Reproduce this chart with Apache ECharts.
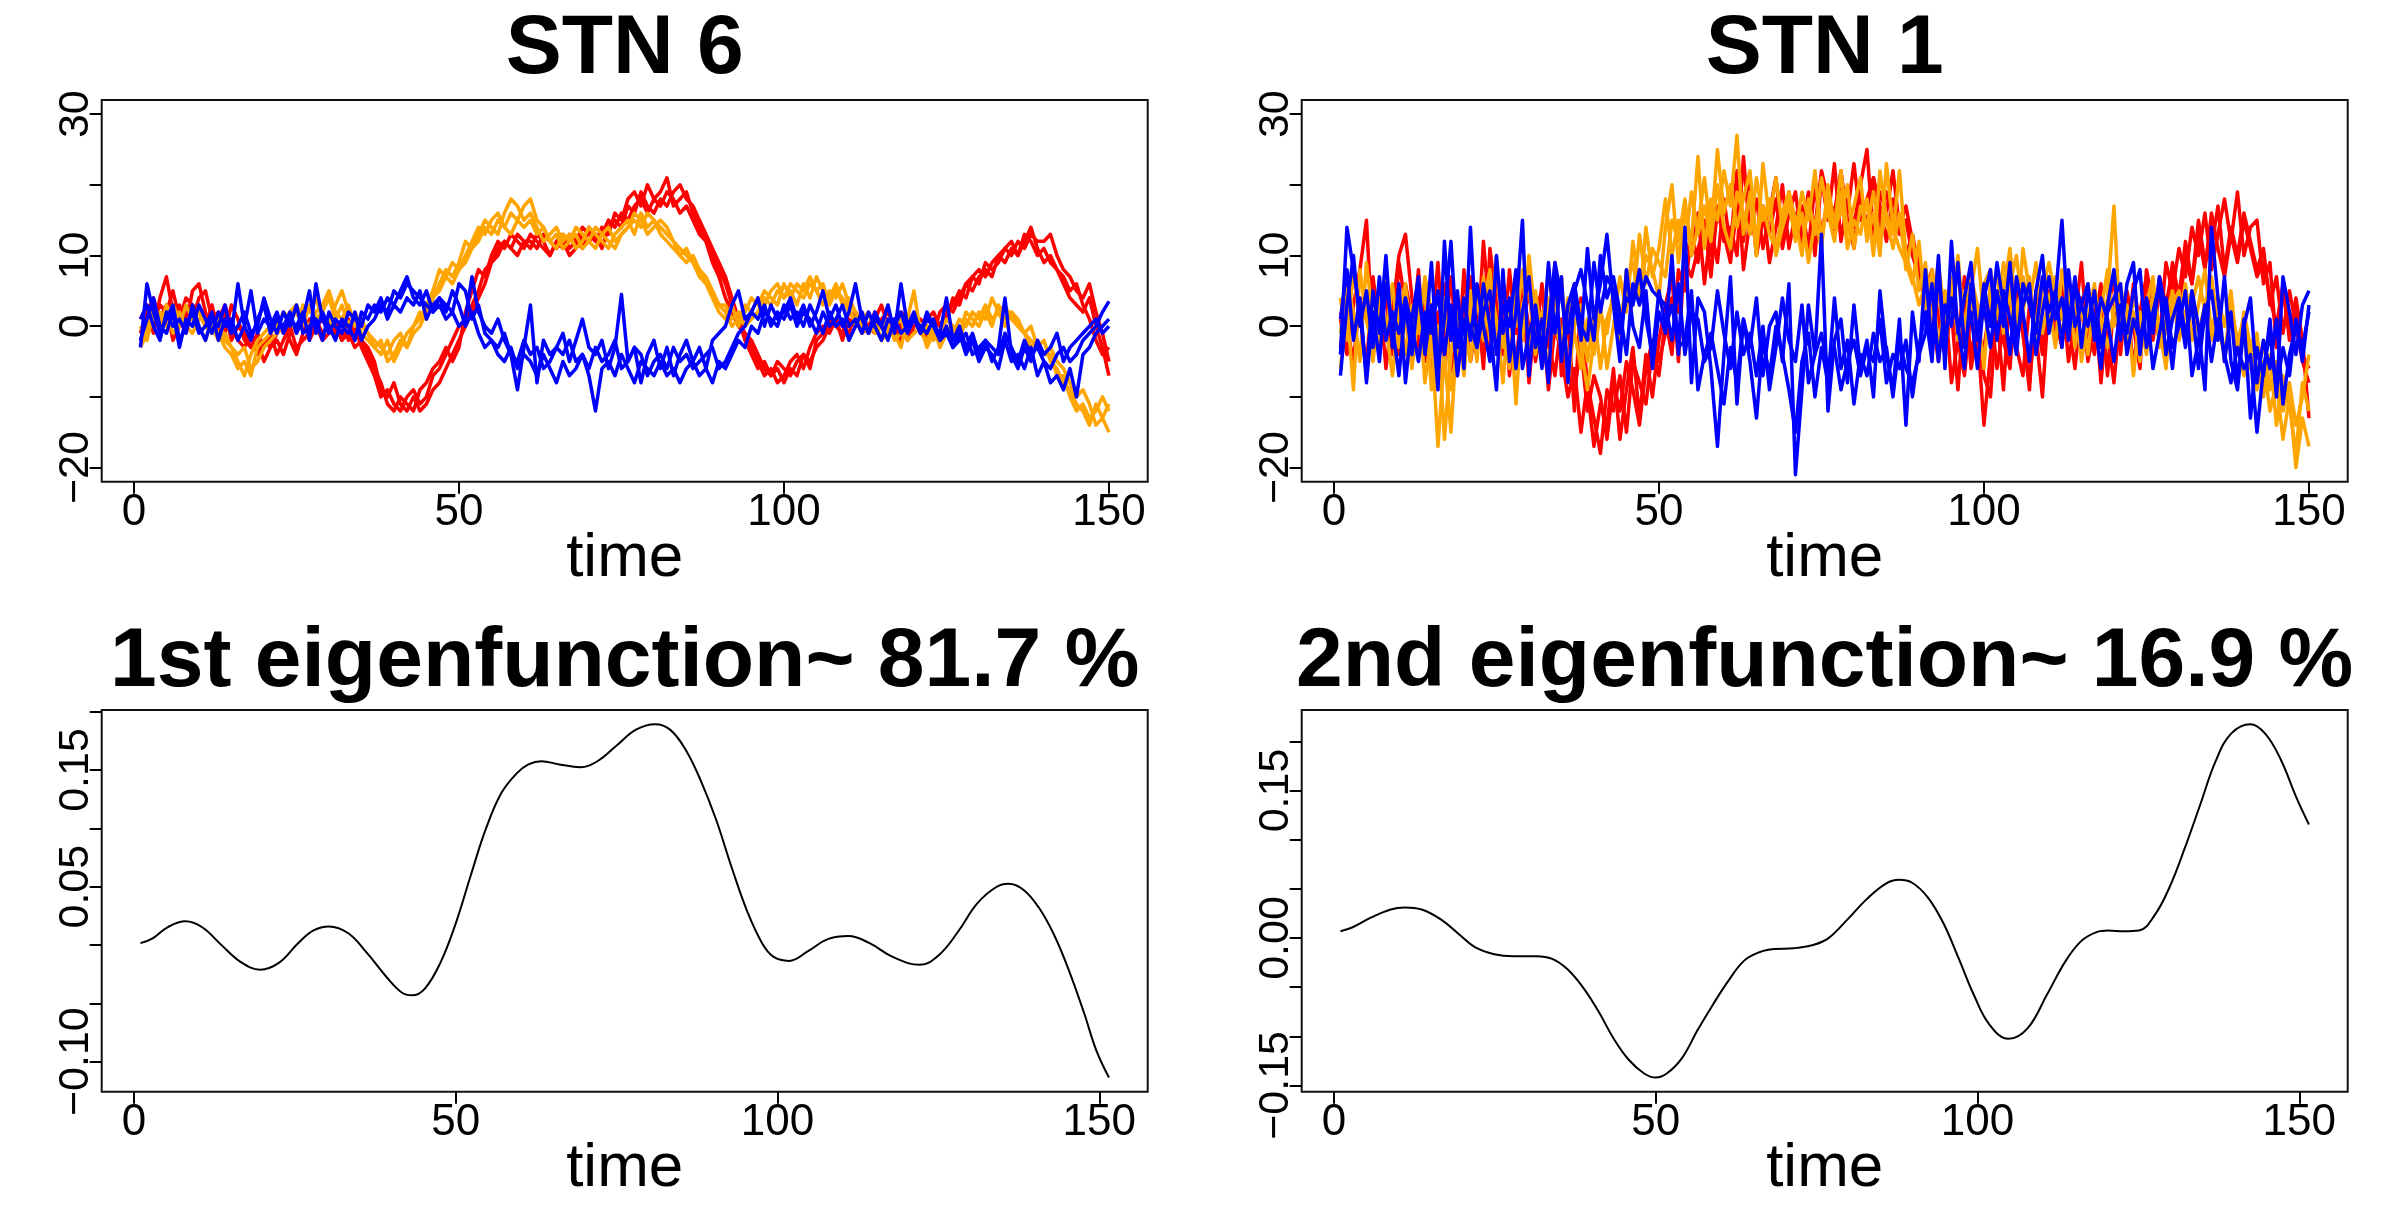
<!DOCTYPE html>
<html><head><meta charset="utf-8">
<script src="https://cdn.jsdelivr.net/npm/echarts@6/dist/echarts.min.js"></script>
<style>html,body{margin:0;padding:0;background:#fff}#c{width:2400px;height:1219px}</style>
</head><body><div id="c"></div><script>
// ---------- data ----------
const time = Array.from({length: 150}, (_, i) => i + 1);
const xTicks = [0, 50, 100, 150];
const topYTicks = [-20, -10, 0, 10, 20, 30];
const topYLabels = [-20, 0, 10, 30];
const ef1YTicks = [-0.10, -0.05, 0, 0.05, 0.10, 0.15, 0.20];
const ef1YLabels = [-0.10, 0.05, 0.15];
const ef2YTicks = [-0.15, -0.10, -0.05, 0, 0.05, 0.10, 0.15, 0.20];
const ef2YLabels = [-0.15, 0, 0.15];
const titles = ['STN 6', 'STN 1', '1st eigenfunction~ 81.7 %', '2nd eigenfunction~ 16.9 %'];
const xName = 'time';
const topYLim = [-20, 30];

// STN 6
const stn6Red1 = [1,3,-1,4,7,2,3,0,5,6, 2,-1,1,3,0,-2,-3,-1,-4,-2, -3,-1,0,-2,-4,-1,1,0,-2,-1, 1,-2,-1,-3,-2,-4,-6,-8,-11,-12, -10,-11,-12,-9,-8,-6,-5,-3,-5,-3, 2,5,8,7,10,12,11,13,12,11, 13,12,11,10,12,13,11,12,14,13, 12,14,13,16,15,18,19,17,20,18, 19,21,17,18,19,16,14,12,10,8, 6,3,1,-2,-4,-6,-5,-7,-6,-8, -6,-7,-4,-5,-3,-2,0,1,-2,1, 0,2,-1,1,3,0,-1,2,1,-1, 0,-2,1,0,2,3,5,4,7,8, 7,9,10,11,10,12,11,13,12,12, 13,10,8,7,5,4,6,2,-1,-5];
const stn6Red2 = [-1,2,4,1,3,-2,0,2,1,4, 5,1,2,-1,3,1,-2,-3,-1,-3, -1,-4,-2,0,-3,-2,-1,1,-1,0, -1,1,-2,0,-3,-5,-7,-10,-9,-11, -12,-10,-9,-11,-10,-7,-6,-4,-2,0, 1,3,5,8,9,11,12,11,13,12, 11,13,12,10,12,11,13,12,11,14, 12,13,15,14,16,15,17,18,16,18, 17,19,18,16,17,15,13,12,9,7, 4,2,0,-1,-3,-5,-7,-6,-8,-7, -5,-4,-6,-3,-1,0,-1,1,0,-1, 2,1,0,-1,1,2,0,-2,0,1, -1,1,2,0,1,4,3,6,5,7, 8,7,10,9,11,10,12,14,11,9, 10,8,6,4,3,2,4,0,-3,-7];
const stn6Red3 = [0,-1,1,3,2,5,1,4,3,2, 0,3,-1,2,-2,0,-1,-3,-2,-5, -3,-2,-4,-1,0,1,-2,0,1,-1, 0,-2,1,-1,-2,-3,-5,-9,-10,-8, -11,-12,-10,-12,-11,-9,-8,-6,-4,-2, 0,2,4,6,9,10,12,11,10,12, 12,11,13,12,11,12,10,11,13,12, 13,11,14,15,14,17,16,19,17,16, 18,17,19,20,18,17,15,13,11,9, 7,4,1,-1,-2,-4,-6,-7,-5,-6, -7,-5,-4,-6,-2,-1,1,0,-1,2, 1,-1,0,2,0,-1,1,0,-2,0, 1,0,-1,2,3,2,4,6,7,6, 9,8,9,11,12,10,13,12,10,11, 9,8,7,5,6,3,1,-2,-4,-3];
const stn6Orange1 = [-3,-1,1,2,0,3,1,-1,2,0, -2,1,-1,-3,-4,-6,-5,-7,-3,-2, -1,0,2,1,-1,3,2,4,1,0, 3,5,2,1,-1,-2,-3,-4,-2,-5, -3,-1,0,2,1,4,6,8,7,9, 12,11,13,15,14,13,16,18,17,15, 16,14,12,13,14,12,13,11,12,14, 13,12,11,13,14,15,13,16,14,15, 13,12,11,10,9,10,8,7,5,3, 2,0,1,3,2,4,3,5,6,4, 5,3,6,4,7,5,4,6,3,4, 2,0,-1,1,-2,0,-1,-3,1,5, -1,-2,0,-3,-1,0,-2,1,0,2, 1,4,2,3,1,0,-1,-2,-3,-2, -5,-6,-8,-9,-11,-12,-14,-11,-13,-15];
const stn6Orange2 = [-2,0,3,1,2,-1,0,3,1,2, 0,-1,1,-2,-3,-5,-7,-4,-2,-1, 0,1,-1,2,3,1,0,2,3,5, 2,1,3,0,1,-1,-2,-3,-4,-2, -1,-3,0,1,3,5,8,7,9,8, 10,12,14,13,15,16,14,13,15,17, 18,15,14,12,13,11,12,14,13,12, 11,13,14,12,13,14,16,15,13,14, 15,14,12,10,11,9,7,6,4,2, 1,3,0,2,4,3,5,4,3,6, 4,6,5,7,5,6,3,5,4,2, 1,2,-1,0,-2,-1,0,1,-2,-1, 0,-3,-1,-2,0,-1,1,0,2,1, 3,1,2,0,2,1,-1,-3,-2,-4, -4,-7,-7,-10,-12,-11,-13,-12,-10,-12];
const stn6Orange3 = [0,-2,2,0,3,1,2,0,-1,1, 1,0,-2,-1,-3,-4,-3,-6,-5,-3, -2,-1,0,1,2,0,3,1,2,4, 1,3,0,2,0,-1,-3,-2,-5,-4, -2,-3,-1,0,2,4,5,7,6,8, 9,11,12,14,13,15,14,16,15,14, 15,13,14,12,11,13,12,13,11,12, 14,13,12,11,13,14,15,14,16,15, 14,13,12,11,10,9,8,6,5,3, 3,1,2,0,1,2,4,3,5,4, 6,5,4,6,5,3,5,4,6,3, 0,1,2,-1,0,1,-2,-1,0,2, -1,0,-2,-1,1,0,-1,2,1,0, 2,0,3,1,2,0,-1,0,-3,-4, -3,-5,-6,-8,-10,-9,-11,-14,-13,-11];
const stn6Blue1 = [-3,6,2,-1,1,3,-2,0,2,-1, 0,2,-2,1,-1,6,0,-2,1,3, -1,1,0,2,-1,1,5,-1,2,0, -2,1,0,-2,2,1,3,2,4,3, 5,7,4,3,5,2,4,3,2,6, 5,1,3,-1,-2,-3,-1,-4,-5,-2, -4,-3,-6,-5,-3,-4,-2,-5,-4,-6, -3,-5,-4,-2,-6,-5,-3,-4,-7,-5, -4,-6,-3,-5,-4,-6,-5,-4,-3,-6, -5,-3,-1,0,2,1,3,0,2,1, 3,0,2,1,-1,2,0,1,3,0, 1,-1,2,0,-2,1,0,2,-1,1, 0,-1,1,-2,0,-3,-2,-1,-4,-3, -2,-3,-4,-1,-3,-5,-2,-4,-3,-5, -6,-4,-3,-5,-4,-2,-1,0,2,3.5];
const stn6Blue2 = [1,3,0,-2,2,0,1,-1,3,0, -2,1,0,3,-1,0,2,-1,0,4, 1,-1,2,0,3,-1,0,1,-2,2, 0,-1,2,1,0,3,2,4,1,3, 2,4,3,5,1,3,4,2,5,3, 0,2,-1,-3,-2,-4,-5,-3,-6,-4, -5,-7,-4,-6,-8,-5,-7,-6,-4,-7, -12,-6,-5,-7,-4,-6,-8,-5,-6,-7, -5,-7,-6,-8,-6,-5,-7,-6,-8,-5, -6,-4,-2,-3,0,-1,2,1,0,3, 1,2,0,3,1,-1,2,0,1,-2, 0,2,-1,1,0,-2,1,-1,0,2, -1,1,0,-2,-1,-3,-1,-4,-2,-5, -3,-4,-6,-2,-5,-4,-6,-3,-7,-5, -8,-7,-9,-6,-10,-4,-3,-1,0,1];
const stn6Blue3 = [-2,1,4,0,-1,2,-3,1,0,3, 1,-1,2,0,1,-2,0,5,-1,1, 0,2,-1,1,0,2,-2,6,1,-1, 1,0,-1,2,-2,0,1,3,2,5, 4,6,5,4,3,2,3,1,2,0, 1,7,2,0,-1,1,-2,-4,-9,-3, 3,-8,-2,-4,-3,-1,-5,-2,1,-3, -4,-2,-6,-3,4.5,-5,-3,-8,-4,-2, -6,-3,-7,-4,-2,-5,-3,-6,-2,-1, 0,3,5,1,2,4,0,3,1,2, 4,1,3,0,2,5,1,3,0,2, 6,1,-1,2,0,3,-1,6,0,1, -1,2,0,-1,4,-2,0,-3,-1,-4, -2,-5,-3,4,-4,-6,-3,-5,-2,-4, -3,-1,-5,-3,-2,-1,0,1,-1,0];

// STN 1
const stn1Red1 = [1,-4,3,8,15,-2,5,-6,2,10, 13,4,-3,6,-1,9,-5,2,-7,8, -2,4,-6,11,3,-4,8,-1,6,-8, 2,5,-3,9,-7,1,-12,4,-9,-17, -11,-14,-6,-16,-9,-3,-13,-4,-10,-2, 3,7,-5,12,10,16,6,14,9,18, 11,22,8,15,12,17,9,14,20,11, 16,13,19,10,21,15,23,12,18,14, 20,25,13,19,16,22,14,17,12,9, 6,2,-5,4,-8,-2,7,-6,-1,-14, -4,2,-9,5,-3,-7,3,-1,-10,4, -2,6,-5,1,9,-3,4,-8,2,7, -4,5,0,-6,8,3,-2,9,5,11, 7,14,10,16,8,13,18,12,19,10, 14,15,6,9,-3,5,-1,4,-2,-13];
const stn1Red2 = [-3,5,-1,2,-6,7,0,4,-4,9, 3,-2,8,-5,1,-3,6,-8,4,-1, 7,-4,12,1,-3,5,-7,3,-2,6, -5,2,-9,0,-4,-10,-6,-15,-8,-13, -18,-9,-12,-7,-15,-5,-8,-11,-3,-7, 1,-4,8,5,13,9,15,7,17,12, 14,10,24,13,18,11,16,21,12,19, 14,17,11,20,13,18,16,22,15,11, 19,14,21,17,12,18,15,10,13,8, 3,-1,6,-3,2,-9,4,-4,1,-7, -10,3,-2,-6,6,-1,-8,2,-4,5, 1,-3,7,-2,4,-5,0,6,-7,3, -1,4,-6,2,7,-2,5,1,9,4, 12,6,15,9,11,17,8,14,10,16, 12,8,11,3,7,-1,5,0,-5,-8];
const stn1Red3 = [2,0,-5,4,1,-2,6,-1,3,-4, 6,1,-3,5,-6,2,-2,7,-4,3, -5,1,4,-3,8,-1,2,-6,5,0, -3,6,-2,-7,1,-5,-9,-3,-12,-7, -10,-16,-8,-12,-5,-9,-14,-6,-2,-5, -1,4,2,9,7,11,14,10,16,13, 9,17,12,20,10,15,13,18,11,16, 19,12,17,14,22,18,13,20,16,23, 15,18,21,14,19,16,13,15,10,7, 5,8,1,-4,3,-2,-7,2,-5,-3, 3,-6,0,-4,2,-1,-9,5,-3,0, 4,-2,1,-6,3,0,-4,5,-1,-8, 2,-3,6,0,4,-1,7,3,8,2, 10,6,13,8,16,11,7,13,9,15, 11,7,9,4,0,6,-2,3,-4,-6];
const stn1Orange1 = [-6,3,-9,8,1,-4,5,0,-7,2, 6,-3,4,-8,-1,-17,-4,-15,0,-6, 2,-5,7,-2,10,-3,4,-11,3,6, -4,2,-7,5,-2,1,6,-3,-9,-2, 3,-6,0,7,2,12,5,10,8,4, 14,20,9,16,12,24,11,18,15,22, 17,27,13,19,10,23,15,21,14,18, 12,16,9,15,11,20,14,22,13,17, 21,12,16,10,23,14,11,9,6,12, 2,8,-4,5,1,10,-1,7,3,-6, 6,1,9,4,-2,11,5,0,7,3, -3,8,2,5,-5,1,6,-2,4,17, -1,3,-7,2,-4,5,0,-6,4,1, 6,-2,3,8,-1,4,-5,2,-3,-7, -2,-9,-5,-12,-8,-16,-10,-20,-13,-17];
const stn1Orange2 = [4,-2,8,0,5,-5,3,-1,6,-3, 1,-6,2,5,-9,0,-16,-4,2,-7, 5,-1,3,8,-4,0,-6,6,-2,10, 1,-5,4,-1,7,-8,0,3,-5,2, -6,1,4,-2,8,3,13,6,11,9, 7,15,12,18,10,14,21,13,25,16, 20,14,18,22,12,17,13,11,16,19, 15,10,18,13,21,16,12,19,11,15, 13,18,10,22,15,11,16,8,13,5, 9,0,6,-3,4,8,-2,5,11,1, 3,8,-1,6,10,2,7,-3,5,9, 4,-2,7,0,3,-4,5,1,-3,2, 6,-1,2,-5,3,7,-3,1,5,-2, 2,5,-1,3,7,0,-4,3,-2,1, -6,-1,-10,-4,-14,-7,-11,-18,-8,-12];
const stn1Orange3 = [-1,6,2,-5,9,1,-3,7,0,4, -4,3,-1,7,2,-6,4,-9,-3,1, -5,4,-2,6,1,-8,3,0,8,-3, 5,-2,8,0,-3,4,-1,-6,1,-4, 2,-1,5,0,6,9,3,14,7,11, 18,10,15,11,19,13,17,12,20,14, 11,19,16,13,21,15,18,10,14,17, 13,19,15,22,12,18,14,16,20,11, 17,14,19,12,16,13,22,10,7,3, 6,4,9,1,7,-2,5,3,-1,6, 8,2,5,11,1,7,3,9,-1,4, 7,1,5,-3,3,6,-1,2,8,0, 3,-2,4,1,-3,2,6,-1,3,5, -1,3,7,2,-2,4,0,5,-4,2, -3,-7,-2,-9,-5,-12,-8,-14,-10,-4];
const stn1Blue1 = [-4,14,8,2,-7,5,-1,10,-3,6, -8,1,7,-4,3,-9,12,-2,5,-6, 14,-3,6,0,-9,8,-5,2,15,-7, 3,-4,9,-1,7,-8,4,-2,11,1, 6,13,3,-5,8,0,-3,5,-6,2, -1,10,-4,14,-8,4,2,-6,-17,-4, 7,-11,1,-3,4,-7,0,2,-5,6, -21,-9,3,-4,13,-12,-2,1,-8,3, -6,-2,-10,5,-4,-9,1,-14,2,-5, 8,-3,10,-6,12,-1,4,9,-2,6, 0,9,3,-4,7,2,-5,5,10,-1, 4,15,0,7,-3,5,1,-6,3,8, -2,6,9,-4,4,-1,7,2,-6,3, -3,5,0,-9,14,4,-5,2,-8,1, -13,-3,-7,1,-10,7,2,-4,3,5];
const stn1Blue2 = [1,8,-2,4,-8,2,-5,6,0,-7, 3,-4,5,-2,9,-6,1,12,-3,4, -2,6,0,-5,10,-1,4,-6,2,7, -3,1,-8,8,-5,3,6,0,-2,9, 2,7,5,-1,4,3,8,1,-4,5, 0,3,-3,-2,5,-9,-4,-1,-6,-11, -3,-8,1,-5,-13,-2,-7,0,-4,-9, -15,-5,-1,-10,-3,-8,4,-6,-2,-11, -4,-7,-1,-5,-3,-10,-2,-6,-8,-4, -1,6,-5,3,0,9,-3,2,-6,4, 8,-2,5,1,-4,6,3,-1,7,2, 5,-3,8,0,3,6,-2,4,1,-5, 3,-1,5,8,-3,2,6,-4,1,4, -1,3,-6,2,5,-2,7,-5,-9,0, 4,-8,-2,-6,1,-11,-4,0,-3,2];
const stn1Blue3 = [-7,3,10,0,5,-3,7,-2,2,-1, 4,0,-5,2,-1,5,-4,3,-7,1, 0,-3,2,5,-4,3,0,8,-6,-1, 2,-6,0,9,4,-1,5,8,3,-2, 10,4,7,2,-4,6,3,7,5,4, 3,-2,6,-4,2,1,-5,-3,5,-1, -6,2,-4,-1,-7,0,-9,-3,4,-2, -5,3,-8,-4,-1,-6,-3,-9,-5,-2, -7,-3,-5,1,-8,-4,-6,-2,-10,-3, 2,-5,8,-2,4,0,-6,6,-1,3, -3,5,0,9,-2,3,6,-4,2,7, 1,4,-2,6,3,0,5,-3,2,4, 6,-4,1,-2,3,-6,-1,4,-3,0, 5,-7,-2,3,-5,1,-4,-8,-3,-6, -4,-15,-6,-1,-9,-3,-7,1,-5,3];

// eigenfunctions
const ef1Time = [1.0,2.9,5.2,8.0,10.6,13.6,16.6,19.6,22.5,25.5, 27.9,30.3,33.3,36.2,39.2,41.6,43.2,45.2,47.6,50.0, 52.3,54.7,57.1,59.5,61.3,63.3,66.1,69.3,72.0,75.0, 78.0,81.0,83.3,85.7,88.1,90.5,92.9,95.3,97.6,99.4, 101.8,104.8,107.8,111.0,114.3,117.9,122.1,125.1,128.1,131.0, 134.0,135.9,138.2,140.6,143.0,145.3,147.7,149.5,151.5];
const ef1Value = [0.0016,0.0057,0.0152,0.0203,0.0152,-0.0001,-0.0146,-0.0211,-0.0153,0.0016, 0.0125,0.0159,0.0101,-0.0068,-0.0272,-0.0407,-0.0431,-0.0373,-0.0153,0.0186, 0.0592,0.0999,0.1304,0.1473,0.1548,0.1575,0.1548,0.1524,0.1575,0.1710, 0.1846,0.1893,0.1846,0.1676,0.1405,0.1067,0.0660,0.0287,0.0016,-0.0102, -0.0136,-0.0051,0.0050,0.0077,0.0016,-0.0102,-0.0170,-0.0085,0.0118,0.0355, 0.0497,0.0525,0.0474,0.0321,0.0084,-0.0221,-0.0593,-0.0898,-0.1136];
const ef2Time = [1.0,2.9,5.8,8.8,11.0,13.6,16.6,19.6,21.9,24.9, 27.9,31.5,33.9,36.2,38.6,41.0,43.4,45.8,48.2,50.0, 51.7,54.1,56.5,58.9,61.3,63.7,66.1,68.4,71.4,74.4, 76.8,79.8,82.7,85.7,87.8,89.9,92.3,94.7,97.1,99.4, 101.8,104.8,107.8,110.8,113.7,116.1,118.5,120.3,122.7,125.1, 127.5,129.8,132.2,134.6,137.0,139.4,142.4,144.7,147.1,149.5, 151.5];
const ef2Value = [0.0068,0.0109,0.0209,0.0290,0.0310,0.0290,0.0189,0.0028,-0.0093,-0.0165, -0.0185,-0.0185,-0.0213,-0.0314,-0.0495,-0.0736,-0.1017,-0.1239,-0.1379,-0.1420, -0.1379,-0.1219,-0.0937,-0.0676,-0.0434,-0.0233,-0.0145,-0.0113,-0.0105,-0.0072, -0.0004,0.0189,0.0390,0.0551,0.0591,0.0559,0.0410,0.0149,-0.0213,-0.0575, -0.0877,-0.1026,-0.0917,-0.0575,-0.0233,-0.0032,0.0060,0.0076,0.0068,0.0076, 0.0229,0.0511,0.0913,0.1355,0.1798,0.2079,0.2175,0.2079,0.1818,0.1436, 0.1154];

// ---------- layout / style ----------
const FONT = '"Liberation Sans", Arial, Helvetica, sans-serif';
const COLORS = {red: '#FF0000', orange: '#FFA500', blue: '#0000FF'};
const BOX_W = 1046, BOX_H = 381.7;
const boxes = [{left: 101.7, top: 100}, {left: 1301.7, top: 100}, {left: 101.7, top: 710}, {left: 1301.7, top: 710}];

function pad(a, b) { const d = b - a; return [a - 0.04 * d, b + 0.04 * d]; }
function minus(s) { return String(s).replace('-', '\u2212'); }

const panels = [
  {x: pad(time[0], time[time.length - 1]), y: pad(topYLim[0], topYLim[1]), yTicks: topYTicks, yLabels: topYLabels, fmt: v => minus(v)},
  {x: pad(time[0], time[time.length - 1]), y: pad(topYLim[0], topYLim[1]), yTicks: topYTicks, yLabels: topYLabels, fmt: v => minus(v)},
  {x: pad(ef1Time[0], ef1Time[ef1Time.length - 1]), y: pad(Math.min(...ef1Value), Math.max(...ef1Value)), yTicks: ef1YTicks, yLabels: ef1YLabels, fmt: v => minus(v.toFixed(2))},
  {x: pad(ef2Time[0], ef2Time[ef2Time.length - 1]), y: pad(Math.min(...ef2Value), Math.max(...ef2Value)), yTicks: ef2YTicks, yLabels: ef2YLabels, fmt: v => minus(v.toFixed(2))}
];

const tickStyle = {color: '#000', width: 2};
const grid = boxes.map(b => ({left: b.left, top: b.top, width: BOX_W, height: BOX_H, show: true, borderColor: '#111', borderWidth: 2, backgroundColor: 'transparent'}));
const xAxis = panels.map((p, i) => ({
  gridIndex: i, type: 'value', min: p.x[0], max: p.x[1], position: 'bottom',
  axisLine: {show: false, onZero: false}, splitLine: {show: false},
  axisTick: {show: true, customValues: xTicks, length: 12, lineStyle: tickStyle},
  axisLabel: {customValues: xTicks, margin: 9, fontSize: 44, fontFamily: FONT, color: '#000'},
  name: xName, nameLocation: 'middle', nameGap: 46, nameMoveOverlap: false,
  nameTextStyle: {fontSize: 62, fontFamily: FONT, color: '#000', verticalAlign: 'top'}
}));
const yAxis = panels.map((p, i) => ({
  gridIndex: i, type: 'value', min: p.y[0], max: p.y[1], position: 'left',
  axisLine: {show: false, onZero: false}, splitLine: {show: false},
  axisTick: {show: true, customValues: p.yTicks, length: 12, lineStyle: tickStyle},
  axisLabel: {customValues: p.yLabels, rotate: 90, margin: 4, fontSize: 43, fontFamily: FONT, color: '#000', formatter: p.fmt}
}));

const series = [];
const topSets = [
  {idx: 0, red: [stn6Red1, stn6Red2, stn6Red3], orange: [stn6Orange1, stn6Orange2, stn6Orange3], blue: [stn6Blue1, stn6Blue2, stn6Blue3]},
  {idx: 1, red: [stn1Red1, stn1Red2, stn1Red3], orange: [stn1Orange1, stn1Orange2, stn1Orange3], blue: [stn1Blue1, stn1Blue2, stn1Blue3]}
];
topSets.forEach(s => ['red', 'orange', 'blue'].forEach(g => s[g].forEach(arr => series.push({
  type: 'line', xAxisIndex: s.idx, yAxisIndex: s.idx, symbol: 'none', clip: true, silent: true,
  data: time.map((t, i) => [t, arr[i]]),
  lineStyle: {color: COLORS[g], width: 3.5, join: 'round'}, itemStyle: {color: COLORS[g]}
}))));
[[ef1Time, ef1Value, 2], [ef2Time, ef2Value, 3]].forEach(([tt, vv, idx]) => series.push({
  type: 'line', xAxisIndex: idx, yAxisIndex: idx, symbol: 'none', smooth: 0.4, clip: true, silent: true,
  data: tt.map((t, i) => [t, vv[i]]),
  lineStyle: {color: '#000', width: 2}, itemStyle: {color: '#000'}
}));

const titleY = [50, 50, 663, 663];
const graphic = titles.map((t, i) => ({
  type: 'text', x: boxes[i].left + BOX_W / 2, y: titleY[i], silent: true,
  style: {text: t, font: 'bold 84px ' + FONT, fill: '#000', align: 'center', verticalAlign: 'middle', textAlign: 'center', textVerticalAlign: 'middle'}
}));

const chart = echarts.init(document.getElementById('c'), null, {renderer: 'canvas'});
chart.setOption({animation: false, backgroundColor: '#fff', grid, xAxis, yAxis, series, graphic});
</script></body></html>
